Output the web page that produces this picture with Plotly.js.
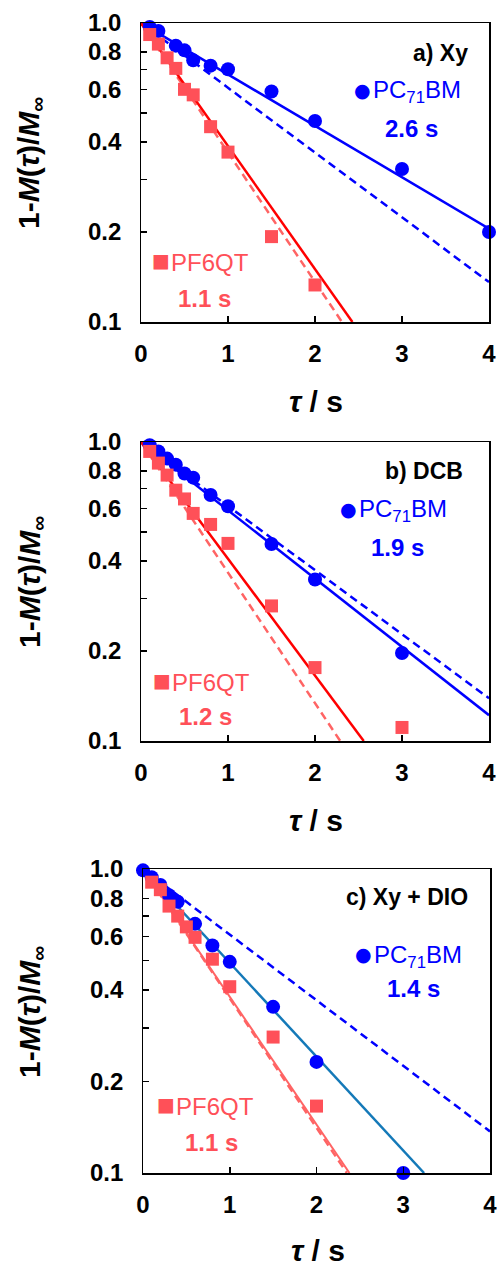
<!DOCTYPE html>
<html><head><meta charset="utf-8">
<script src="https://cdn.plot.ly/plotly-3.0.1.min.js"></script>
<style>html,body{margin:0;padding:0;background:#fff}#chart{width:499px;height:1268px}</style>
</head><body><div id="chart"></div>
<script>
// ---------- data ----------
// Panel a) Xy
const tA_pc = [0.1,0.2,0.4,0.5,0.6,0.8,1.0,1.5,2,3,4];
const yA_pc = [0.97,0.94,0.84,0.81,0.75,0.72,0.70,0.59,0.47,0.325,0.20];
const tA_pf = [0.1,0.2,0.3,0.4,0.5,0.6,0.8,1.0,1.5,2];
const yA_pf = [0.915,0.85,0.765,0.705,0.60,0.575,0.45,0.37,0.193,0.133];
const tA_pcFit = [0,4],    yA_pcFit = [1,0.205];
const tA_pcSim = [0,4],    yA_pcSim = [1,0.136];
const tA_pfFit = [0,2.43], yA_pfFit = [1,0.1];
const tA_pfSim = [0,2.31], yA_pfSim = [1,0.1];
// Panel b) DCB
const tB_pc = [0.1,0.2,0.3,0.4,0.5,0.6,0.8,1.0,1.5,2,3];
const yB_pc = [0.975,0.93,0.88,0.84,0.785,0.76,0.665,0.61,0.456,0.347,0.197];
const tB_pf = [0.1,0.2,0.3,0.4,0.5,0.6,0.8,1.0,1.5,2,3];
const yB_pf = [0.93,0.85,0.775,0.69,0.645,0.577,0.53,0.458,0.283,0.176,0.111];
const tB_pcFit = [0,4],    yB_pcFit = [1,0.122];
const tB_pcSim = [0,4],    yB_pcSim = [1,0.139];
const tB_pfFit = [0,2.56], yB_pfFit = [1,0.1];
const tB_pfSim = [0,2.29], yB_pfSim = [1,0.1];
// Panel c) Xy + DIO
const tC_pc = [0,0.1,0.2,0.3,0.4,0.6,0.8,1.0,1.5,2,3];
const yC_pc = [0.99,0.94,0.886,0.82,0.78,0.66,0.56,0.495,0.352,0.232,0.10];
const tC_pf = [0.1,0.2,0.3,0.4,0.5,0.6,0.8,1.0,1.5,2];
const yC_pf = [0.905,0.855,0.755,0.70,0.645,0.596,0.505,0.41,0.28,0.166];
const tC_pcFit = [0,3.24], yC_pcFit = [1,0.1];
const tC_pcSim = [0,4],    yC_pcSim = [1,0.137];
const tC_pfFit = [0,2.38], yC_pfFit = [1,0.1];
const tC_pfSim = [0,2.35], yC_pfSim = [1,0.1];

const panelLabels = ['a) Xy','b) DCB','c) Xy + DIO'];
const pcTimes = ['2.6 s','1.9 s','1.4 s'];
const pfTimes = ['1.1 s','1.2 s','1.1 s'];
const xTickVals = [0,1,2,3,4];
const yTickVals = [0.1,0.2,0.4,0.6,0.8,1.0];
const yTickText = ['0.1','0.2','0.4','0.6','0.8','1.0'];
const yMinorVals = [0.3,0.5,0.7];

// ---------- styling ----------
const W = 499, H = 1268;
const FONT = 'Liberation Sans, Arial, sans-serif';
const BLUE = '#0000ff', TEAL = '#1479b8', RED = '#ff0000', PINK = '#ff5058', PINKL = '#ff6464';
const px = v => v / W, py = v => 1 - v / H;
const PAD = '\u00a0\u00a0';

const panels = [
  {x0:141, x1:489, y0:23,  y1:322, pc:[tA_pc,yA_pc], pf:[tA_pf,yA_pf],
   pcFit:[tA_pcFit,yA_pcFit], pcSim:[tA_pcSim,yA_pcSim], pfFit:[tA_pfFit,yA_pfFit], pfSim:[tA_pfSim,yA_pfSim],
   pcFitColor:BLUE, pfFitColor:RED, pfFitW:2.5,
   lab:[470,53], pcLeg:[360,90], pcT:[411,128], pfLeg:[158,260], pfT:[204,298], ytitle:[31,163], xtitle:[316,401]},
  {x0:141, x1:489, y0:442, y1:741, pc:[tB_pc,yB_pc], pf:[tB_pf,yB_pf],
   pcFit:[tB_pcFit,yB_pcFit], pcSim:[tB_pcSim,yB_pcSim], pfFit:[tB_pfFit,yB_pfFit], pfSim:[tB_pfSim,yB_pfSim],
   pcFitColor:BLUE, pfFitColor:RED, pfFitW:2.5,
   lab:[465,471], pcLeg:[346,509], pcT:[397,547], pfLeg:[159,680], pfT:[205,716], ytitle:[31,582], xtitle:[316,820]},
  {x0:143, x1:490, y0:869, y1:1173, pc:[tC_pc,yC_pc], pf:[tC_pf,yC_pf],
   pcFit:[tC_pcFit,yC_pcFit], pcSim:[tC_pcSim,yC_pcSim], pfFit:[tC_pfFit,yC_pfFit], pfSim:[tC_pfSim,yC_pfSim],
   pcFitColor:TEAL, pfFitColor:PINKL, pfFitW:2,
   lab:[470,897], pcLeg:[361,954], pcT:[413,988], pfLeg:[163,1104], pfT:[211,1142], ytitle:[31,1012], xtitle:[318,1250]}
];

const data = [];
const layout = {
  width: W, height: H, margin: {l:0, r:0, t:0, b:0},
  paper_bgcolor: '#fff', plot_bgcolor: '#fff', showlegend: false,
  font: {family: FONT, color: '#000'},
  annotations: []
};

panels.forEach((p, i) => {
  const n = i === 0 ? '' : String(i + 1);
  const xa = 'x' + n, ya = 'y' + n;
  layout['xaxis' + n] = {
    domain: [px(p.x0), px(p.x1)], anchor: ya, range: [0, 4],
    tickmode: 'array', tickvals: xTickVals, ticks: 'inside', ticklen: 6, tickwidth: 1.5, tickcolor: '#000',
    showline: true, mirror: true, linewidth: 1.5, linecolor: '#000', showgrid: false, zeroline: false,
    tickfont: {size: 24, family: FONT, weight: 'bold', color: '#000'}, ticklabelstandoff: 10
  };
  layout['yaxis' + n] = {
    domain: [py(p.y1), py(p.y0)], anchor: xa, type: 'log', range: [-1, 0],
    tickmode: 'array', tickvals: yTickVals, ticktext: yTickText.map(s => s + PAD), ticks: 'inside', ticklen: 6, tickwidth: 1.5, tickcolor: '#000',
    minor: {tickmode: 'array', tickvals: yMinorVals, ticks: 'inside', ticklen: 6, tickwidth: 1.5, tickcolor: '#000', showgrid: false},
    showline: true, mirror: true, linewidth: 1.5, linecolor: '#000', showgrid: false, zeroline: false,
    tickfont: {size: 24, family: FONT, weight: 'bold', color: '#000'}
  };
  const line = (xy, color, width, dash) => ({x: xy[0], y: xy[1], xaxis: xa, yaxis: ya, mode: 'lines', type: 'scatter',
    line: {color, width, dash: dash || 'solid'}, hoverinfo: 'skip'});
  data.push(line(p.pcSim, BLUE, 2.5, '8px,5px'));
  data.push(line(p.pfSim, PINKL, 2.5, '8px,5px'));
  data.push(line(p.pcFit, p.pcFitColor, 2.5));
  data.push(line(p.pfFit, p.pfFitColor, p.pfFitW));
  data.push({x: p.pc[0], y: p.pc[1], xaxis: xa, yaxis: ya, mode: 'markers', type: 'scatter', cliponaxis: false,
    marker: {symbol: 'circle', size: 14, color: BLUE}, name: 'PC71BM'});
  data.push({x: p.pf[0], y: p.pf[1], xaxis: xa, yaxis: ya, mode: 'markers', type: 'scatter', cliponaxis: false,
    marker: {symbol: 'square', size: 13, color: PINK}, name: 'PF6QT'});

  const A = (x, y, text, o) => layout.annotations.push(Object.assign({
    xref: 'paper', yref: 'paper', x: px(x), y: py(y), text, showarrow: false,
    xanchor: 'center', yanchor: 'middle', font: {family: FONT, size: 23, color: '#000'}
  }, o || {}));
  A(p.lab[0], p.lab[1], panelLabels[i], {xanchor: 'right', font: {family: FONT, size: 23, color: '#000', weight: 'bold'}});
  A(p.pcLeg[0] - 8, p.pcLeg[1], '●', {xanchor: 'left', font: {family: 'DejaVu Sans', size: 19, color: BLUE}});
  A(p.pcLeg[0] + 11, p.pcLeg[1] + 2, 'PC<sub>71</sub>BM', {xanchor: 'left', font: {family: FONT, size: 24, color: BLUE}});
  A(p.pcT[0], p.pcT[1], pcTimes[i], {font: {family: FONT, size: 24, color: BLUE, weight: 'bold'}});
  A(p.pfLeg[0] - 8, p.pfLeg[1], '■', {xanchor: 'left', font: {family: 'DejaVu Sans', size: 19, color: PINK}});
  A(p.pfLeg[0] + 11, p.pfLeg[1] + 2, 'PF6QT', {xanchor: 'left', font: {family: FONT, size: 24, color: PINK}});
  A(p.pfT[0], p.pfT[1], pfTimes[i], {font: {family: FONT, size: 24, color: PINK, weight: 'bold'}});
  A(p.ytitle[0], p.ytitle[1], '1-<i>M</i>(<i>τ</i>)/<i>M</i><sub>∞</sub>', {textangle: -90,
    font: {family: FONT, size: 30, color: '#000', weight: 'bold'}});
  A(p.xtitle[0], p.xtitle[1], '<i>τ</i> / s', {font: {family: FONT, size: 30, color: '#000', weight: 'bold'}});
});

Plotly.newPlot('chart', data, layout, {staticPlot: true, displayModeBar: false});
</script></body></html>
